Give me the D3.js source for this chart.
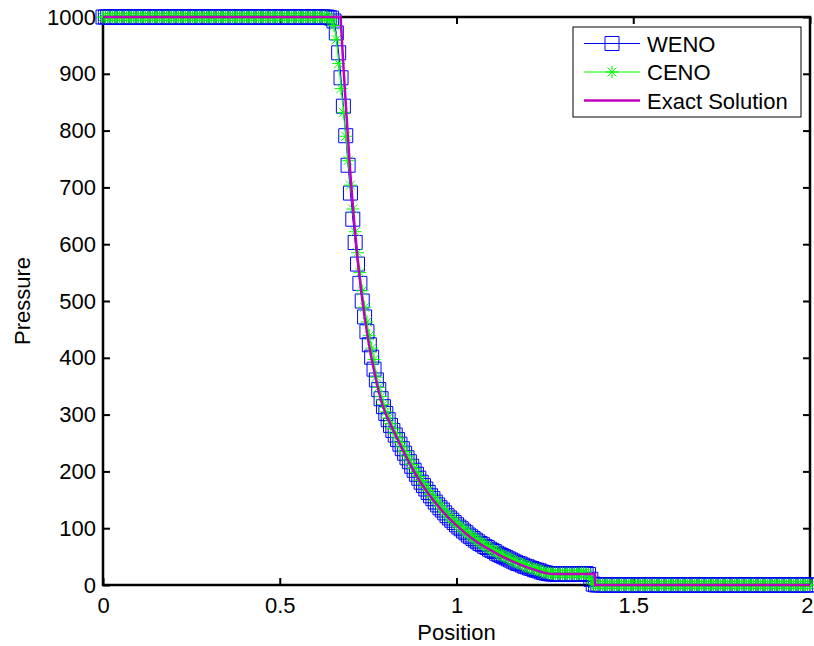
<!DOCTYPE html>
<html>
<head>
<meta charset="utf-8">
<script src="https://cdn.jsdelivr.net/npm/d3@7"></script>
<style>
  body { margin: 0; background: #fff; }
  svg { display: block; font-family: "Liberation Sans", Arial, sans-serif; }
</style>
</head>
<body>
<div id="chart"></div>
<script>
// axis ticks
const xTicks = [0, 0.5, 1, 1.5, 2];
const yTicks = [0, 100, 200, 300, 400, 500, 600, 700, 800, 900, 1000];

// numerical grid: 300 cells on [0, 2], nodes i * dx
const gridStep = 2 / 300;
const gridCount = 301;

// WENO pressure
const wenoLeftState = 1000;   // nodes 0..95
const wenoFront = [
  999, 998, 993, 972, 937, 893, 843, 791, 739, 690,
  644, 603, 565, 531, 500, 472, 446, 423, 401, 380,
  361, 344, 328, 314, 302, 291, 281, 272, 264, 256,
  248, 240, 232, 224, 217, 209, 202, 195, 188, 181,
  175, 169, 163, 157, 152, 146, 141, 136, 132, 127,
  122, 118, 114, 110, 106, 102, 99, 95, 92, 88,
  85, 82, 79, 76, 73, 71, 68, 66, 63, 61,
  59, 56, 54, 52, 50, 48, 46, 44, 42, 40,
  38, 37, 35, 33, 32, 30, 29, 27, 26, 25,
  23, 22, 21, 20, 19.6, 19.2, 19.1, 19.1, 19.1, 19.1,
  19.1, 19.1, 19.1, 19.1, 19.1, 19.1, 19.4, 19.9, 20.3, 20,
  18.5, 10, 1.5, 0.3, 0.1
];                             // nodes 96..212
const wenoRightState = 0.1;   // nodes 213..300

// CENO pressure
const cenoLeftState = 1000;
const cenoFront = [
  998, 995, 985, 960, 918, 874, 832, 790, 747, 704,
  662, 622, 585, 550, 518, 489, 463, 439, 417, 397,
  366, 348, 332, 318, 305, 294, 284, 275, 267, 259,
  251, 243, 235, 227, 220, 212, 205, 198, 191, 184,
  178, 172, 166, 160, 155, 149, 144, 139, 134, 129,
  124, 120, 116, 112, 108, 104, 101, 97, 94, 90,
  87, 84, 81, 78, 75, 72, 70, 67, 65, 62,
  60, 58, 55, 53, 51, 49, 47, 45, 43, 41,
  39, 38, 36, 34, 33, 31, 30, 28, 27, 26,
  24, 23, 22, 21, 20.3, 20, 19.8, 19.7, 19.7, 19.7,
  19.7, 19.7, 19.7, 19.7, 19.7, 19.7, 19.9, 20.3, 20.6, 20.4,
  19, 11, 2, 0.4, 0.1
];
const cenoRightState = 0.1;

// exact solution
const exactX = [0, 0.672, 0.680, 0.690, 0.700, 0.710, 0.720, 0.730, 0.740, 0.750,
  0.760, 0.770, 0.780, 0.790, 0.800, 0.820, 0.840, 0.860, 0.880, 0.900,
  0.920, 0.940, 0.960, 0.980, 1.000, 1.020, 1.040, 1.060, 1.080, 1.100,
  1.120, 1.140, 1.160, 1.180, 1.200, 1.220, 1.240, 1.260, 1.272, 1.392,
  1.392, 2];
const exactP = [1000, 1000, 915, 815, 722, 643, 576, 520, 472, 432,
  398, 368, 341, 318, 301, 274, 248, 223, 200, 179,
  161, 145, 130, 117, 105, 94, 84, 75, 67, 60,
  53, 47, 41, 36, 31, 27, 23, 20, 19.2, 19.2,
  0.1, 0.1];

const seriesNames = ["WENO", "CENO", "Exact Solution"];
const seriesColors = ["#0000ff", "#00ff00", "#bf00bf"];

function buildSeries(leftState, front, rightState) {
  const pts = [];
  const frontStart = 96;
  for (let i = 0; i < gridCount; i++) {
    let p;
    if (i < frontStart) p = leftState;
    else if (i < frontStart + front.length) p = front[i - frontStart];
    else p = rightState;
    pts.push({ x: i * gridStep, p });
  }
  return pts;
}

const weno = buildSeries(wenoLeftState, wenoFront, wenoRightState);
const ceno = buildSeries(cenoLeftState, cenoFront, cenoRightState);
const exact = exactX.map((x, i) => ({ x, p: exactP[i] }));

const width = 814;
const height = 646;
const margin = { left: 103, right: 4, top: 17, bottom: 61 };

const svg = d3.select("#chart")
  .append("svg")
  .attr("width", width)
  .attr("height", height);

const x = d3.scaleLinear().domain([0, 2]).range([margin.left, width - margin.right]);
const y = d3.scaleLinear().domain([0, 1000]).range([height - margin.bottom, margin.top]);

const fontSize = 22;
const tickLen = 7;

// axes, MATLAB style: inward ticks on all four sides
const axisBottom = d3.axisBottom(x).tickValues(xTicks).tickSize(-tickLen).tickPadding(12)
  .tickFormat(d => String(d));
const axisLeft = d3.axisLeft(y).tickValues(yTicks).tickSize(-tickLen).tickPadding(7)
  .tickFormat(d => String(d));
const axisTop = d3.axisTop(x).tickValues(xTicks).tickSize(-tickLen).tickFormat("");
const axisRight = d3.axisRight(y).tickValues(yTicks).tickSize(-tickLen).tickFormat("");

function styleAxis(g) {
  g.select(".domain").remove();
  g.selectAll(".tick line").attr("stroke", "#000").attr("stroke-width", 2);
  g.selectAll(".tick text").attr("fill", "#000").style("font-size", fontSize + "px");
}

const gx = svg.append("g").attr("transform", `translate(0,${y(0)})`).call(axisBottom).call(styleAxis);
// the last label sits on the page edge; keep it inside
gx.selectAll(".tick text").filter(d => d === 2).attr("text-anchor", "end").attr("dx", 3);
svg.append("g").attr("transform", `translate(${x(0)},0)`).call(axisLeft).call(styleAxis);
svg.append("g").attr("transform", `translate(0,${y(1000)})`).call(axisTop).call(styleAxis);
svg.append("g").attr("transform", `translate(${x(2)},0)`).call(axisRight).call(styleAxis);

svg.append("rect")
  .attr("x", x(0))
  .attr("y", y(1000))
  .attr("width", x(2) - x(0))
  .attr("height", y(0) - y(1000))
  .attr("fill", "none")
  .attr("stroke", "#000")
  .attr("stroke-width", 2.5);

// axis labels
svg.append("text")
  .attr("x", (x(0) + x(2)) / 2)
  .attr("y", 640)
  .attr("text-anchor", "middle")
  .style("font-size", fontSize + "px")
  .text("Position");

svg.append("text")
  .attr("transform", `translate(30,${(y(0) + y(1000)) / 2}) rotate(-90)`)
  .attr("text-anchor", "middle")
  .style("font-size", fontSize + "px")
  .text("Pressure");

// marker shapes
const sq = 7;
const st = 6.5;
const sd = st * 0.7;
const squarePath = `M${-sq},${-sq}H${sq}V${sq}H${-sq}Z`;
const starPath = `M${-st},0H${st}M0,${-st}V${st}M${-sd},${-sd}L${sd},${sd}M${-sd},${sd}L${sd},${-sd}`;

const line = d3.line().x(d => x(d.x)).y(d => y(d.p));

// WENO
svg.append("path").datum(weno)
  .attr("d", line).attr("fill", "none")
  .attr("stroke", seriesColors[0]).attr("stroke-width", 1);
svg.append("g").selectAll("path").data(weno).join("path")
  .attr("d", squarePath)
  .attr("transform", d => `translate(${x(d.x)},${y(d.p)})`)
  .attr("fill", "none").attr("stroke", seriesColors[0]).attr("stroke-width", 1);

// CENO
svg.append("path").datum(ceno)
  .attr("d", line).attr("fill", "none")
  .attr("stroke", seriesColors[1]).attr("stroke-width", 1);
svg.append("g").selectAll("path").data(ceno).join("path")
  .attr("d", starPath)
  .attr("transform", d => `translate(${x(d.x)},${y(d.p)})`)
  .attr("fill", "none").attr("stroke", seriesColors[1]).attr("stroke-width", 1);

// exact
svg.append("path").datum(exact)
  .attr("d", line).attr("fill", "none")
  .attr("stroke", seriesColors[2]).attr("stroke-width", 2.5);

// legend
const legend = svg.append("g");
legend.append("rect")
  .attr("x", 573).attr("y", 27).attr("width", 228).attr("height", 90)
  .attr("fill", "#fff").attr("stroke", "#000").attr("stroke-width", 1);

const rowY = [43.5, 72, 100.5];
seriesNames.forEach((name, i) => {
  const row = legend.append("g").attr("transform", `translate(0,${rowY[i]})`);
  row.append("line")
    .attr("x1", 584).attr("x2", 640).attr("y1", 0).attr("y2", 0)
    .attr("stroke", seriesColors[i]).attr("stroke-width", i === 2 ? 2.5 : 1);
  if (i === 0) {
    row.append("path").attr("d", squarePath).attr("transform", "translate(612,0)")
      .attr("fill", "none").attr("stroke", seriesColors[0]);
  } else if (i === 1) {
    row.append("path").attr("d", starPath).attr("transform", "translate(612,0)")
      .attr("fill", "none").attr("stroke", seriesColors[1]);
  }
  row.append("text")
    .attr("x", 647).attr("y", 0).attr("dy", "0.37em")
    .style("font-size", fontSize + "px")
    .text(name);
});
</script>
</body>
</html>
